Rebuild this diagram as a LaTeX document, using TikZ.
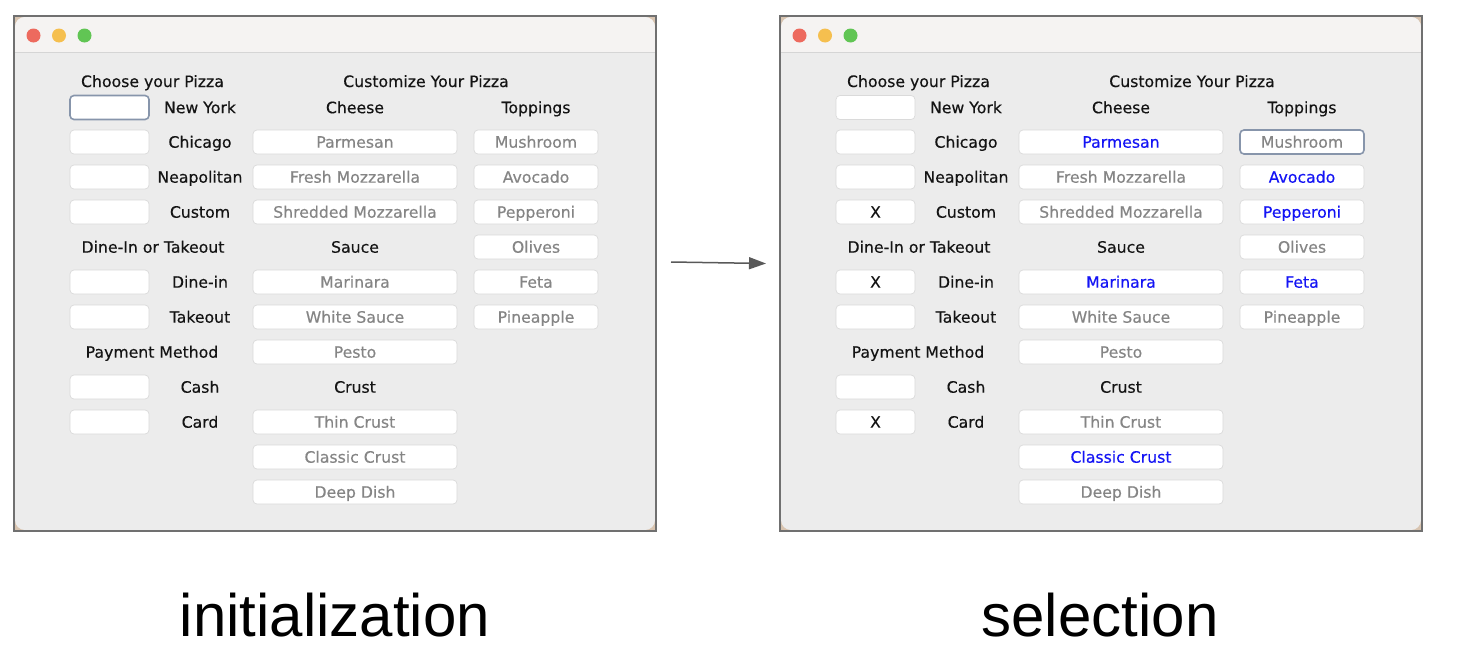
\documentclass[tikz,border=0pt]{standalone}
\usepackage{fontspec}
\usetikzlibrary{arrows.meta}
\newfontfamily\uifam{DejaVu Sans}[FakeBold=0.35]
\newfontfamily\bigfam{Liberation Sans}
\newcommand\uif{\uifam\fontsize{15.7}{18}\selectfont}
\newcommand\bigf{\bigfam\fontsize{60}{66}\selectfont}
\definecolor{labelcol}{HTML}{141414}
\definecolor{btngray}{HTML}{858585}
\definecolor{selblue}{RGB}{20,20,245}
\definecolor{boxedge}{HTML}{DADADA}
\definecolor{focuscol}{HTML}{8795AB}
\definecolor{contentcol}{HTML}{ECECEC}
\definecolor{titlecol}{HTML}{F5F3F2}
\definecolor{sepcol}{HTML}{D5D5D5}
\definecolor{bordercol}{HTML}{707070}
\definecolor{cornercol}{HTML}{D8C4B0}
\definecolor{arrowcol}{HTML}{595959}
\definecolor{tlred}{HTML}{ED6A5E}
\definecolor{tlyellow}{HTML}{F5BF4F}
\definecolor{tlgreen}{HTML}{61C554}
\tikzset{
  lbl/.style={font=\uif, text=labelcol, inner sep=0pt, anchor=base},
  fld/.style={draw=boxedge, line width=0.7pt, fill=white, rounded corners=4pt,
    minimum height=24pt, inner sep=0pt, text height=11.4pt, text depth=0pt,
    font=\uif, text=btngray},
  chkbox/.style={fld, minimum width=79pt, text=labelcol},
  chbtn/.style={fld, minimum width=204pt},
  tpbtn/.style={fld, minimum width=124pt},
  focused/.style={draw=focuscol, line width=1.6pt},
  chosen/.style={text=selblue},
  biglbl/.style={font=\bigf, text=black, inner sep=0pt, anchor=base},
  L-ny/.style={focused},
  R-parm/.style={chosen}, R-mari/.style={chosen}, R-clas/.style={chosen},
  R-avoc/.style={chosen}, R-pepp/.style={chosen}, R-feta/.style={chosen},
  R-mush/.style={focused},
}
\newcommand\pizzawin[1]{%
  \fill[cornercol] (14,16) rectangle (656,531);
  \fill[contentcol, rounded corners=10pt] (15,17) rectangle (655,530);
  \fill[titlecol, rounded corners=10pt] (15,17) rectangle (655,62);
  \fill[contentcol] (15,52.5) rectangle (655,64);
  \draw[sepcol, line width=0.8pt] (15,52.5) -- (655,52.5);
  \draw[bordercol, line width=1.6pt] (14,16) rectangle (656,531);
  \fill[tlred] (33.5,35.5) circle[radius=7pt];
  \fill[tlyellow] (59,35.5) circle[radius=7pt];
  \fill[tlgreen] (84.5,35.5) circle[radius=7pt];
  % headings
  \node[lbl] (#1-h1) at (152.5,87) {Choose your Pizza};
  \node[lbl] (#1-h2) at (426,87) {Customize Your Pizza};
  \node[lbl] (#1-h3) at (355,113.2) {Cheese};
  \node[lbl] (#1-h4) at (536,113.2) {Toppings};
  \node[lbl] (#1-h5) at (153,252.7) {Dine-In or Takeout};
  \node[lbl] (#1-h6) at (355,252.7) {Sauce};
  \node[lbl] (#1-h7) at (152,357.7) {Payment Method};
  \node[lbl] (#1-h8) at (355,392.7) {Crust};
  % check boxes and labels
  \node[chkbox, #1-ny/.try] (#1-ny) at (109.5,107.5) {};
  \node[chkbox, #1-chi/.try] (#1-chi) at (109.5,142) {};
  \node[chkbox, #1-nea/.try] (#1-nea) at (109.5,177) {};
  \node[chkbox, #1-cus/.try] (#1-cus) at (109.5,212) {};
  \node[chkbox, #1-din/.try] (#1-din) at (109.5,282) {};
  \node[chkbox, #1-tak/.try] (#1-tak) at (109.5,317) {};
  \node[chkbox, #1-cas/.try] (#1-cas) at (109.5,387) {};
  \node[chkbox, #1-car/.try] (#1-car) at (109.5,422) {};
  \node[lbl] (#1-lny) at (200,113.2) {New York};
  \node[lbl] (#1-lchi) at (200,147.7) {Chicago};
  \node[lbl] (#1-lnea) at (200,182.7) {Neapolitan};
  \node[lbl] (#1-lcus) at (200,217.7) {Custom};
  \node[lbl] (#1-ldin) at (200,287.7) {Dine-in};
  \node[lbl] (#1-ltak) at (200,322.7) {Takeout};
  \node[lbl] (#1-lcas) at (200,392.7) {Cash};
  \node[lbl] (#1-lcar) at (200,427.7) {Card};
  % cheese / sauce / crust
  \node[chbtn, #1-parm/.try] (#1-parm) at (355,142) {Parmesan};
  \node[chbtn, #1-fres/.try] (#1-fres) at (355,177) {Fresh Mozzarella};
  \node[chbtn, #1-shre/.try] (#1-shre) at (355,212) {Shredded Mozzarella};
  \node[chbtn, #1-mari/.try] (#1-mari) at (355,282) {Marinara};
  \node[chbtn, #1-whit/.try] (#1-whit) at (355,317) {White Sauce};
  \node[chbtn, #1-pest/.try] (#1-pest) at (355,352) {Pesto};
  \node[chbtn, #1-thin/.try] (#1-thin) at (355,422) {Thin Crust};
  \node[chbtn, #1-clas/.try] (#1-clas) at (355,457) {Classic Crust};
  \node[chbtn, #1-deep/.try] (#1-deep) at (355,492) {Deep Dish};
  % toppings
  \node[tpbtn, #1-mush/.try] (#1-mush) at (536,142) {Mushroom};
  \node[tpbtn, #1-avoc/.try] (#1-avoc) at (536,177) {Avocado};
  \node[tpbtn, #1-pepp/.try] (#1-pepp) at (536,212) {Pepperoni};
  \node[tpbtn, #1-oliv/.try] (#1-oliv) at (536,247) {Olives};
  \node[tpbtn, #1-feta/.try] (#1-feta) at (536,282) {Feta};
  \node[tpbtn, #1-pine/.try] (#1-pine) at (536,317) {Pineapple};
}
\begin{document}
\begin{tikzpicture}[x=1pt,y=-1pt]
  \useasboundingbox (0,0) rectangle (1472,656);
  \fill[white] (0,0) rectangle (1472,656);
  \pizzawin{L}
  \begin{scope}[xshift=766pt]
    \pizzawin{R}
  \end{scope}
  \node[lbl, anchor=center, text height=11.4pt, text depth=0pt] (R-xcus) at (R-cus) {X};
  \node[lbl, anchor=center, text height=11.4pt, text depth=0pt] (R-xdin) at (R-din) {X};
  \node[lbl, anchor=center, text height=11.4pt, text depth=0pt] (R-xcar) at (R-car) {X};
  \coordinate (a1) at (671,262);
  \coordinate (a2) at (766,263.5);
  \draw[arrowcol, line width=1.5pt, -{Triangle[length=17pt,width=12pt]}] (a1) -- (a2);
  \node[biglbl] (cap1) at (335,636) {initialization};
  \node[biglbl] (cap2) at (1100,636) {selection};
\end{tikzpicture}
\end{document}
